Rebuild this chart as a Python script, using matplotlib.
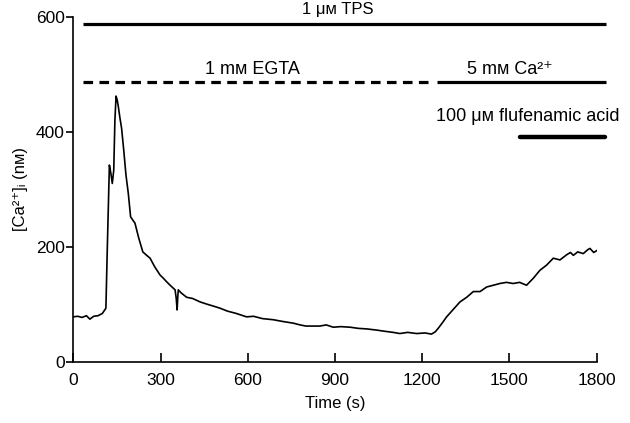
import matplotlib
matplotlib.use("Agg")
import matplotlib.pyplot as plt

plt.rcParams['font.family'] = ['Liberation Sans', 'DejaVu Sans']

time_s = [0, 15, 30, 45, 57, 70, 85, 100, 112, 117, 124, 129, 134, 139, 143, 147,
          151, 155, 160, 166, 173, 181, 189, 197, 205, 212, 225, 239, 250, 264,
          280, 298, 310, 321, 335, 350, 354, 357, 359, 361, 370, 390, 410, 436,
          460, 480, 505, 530, 560, 596, 620, 650, 688, 720, 757, 780, 800, 848,
          870, 894, 920, 952, 980, 1010, 1043, 1070, 1100, 1123, 1150, 1181,
          1210, 1232, 1245, 1255, 1270, 1284, 1307, 1330, 1353, 1376, 1399,
          1422, 1445, 1467, 1490, 1513, 1535, 1559, 1582, 1605, 1628, 1651,
          1674, 1697, 1710, 1720, 1735, 1754, 1770, 1777, 1790, 1800]
ca_nM = [78, 79, 77, 80, 74, 79, 80, 84, 93, 200, 342, 328, 310, 333, 420, 462,
         455, 443, 425, 406, 370, 325, 293, 252, 246, 241, 215, 191, 186, 180,
         165, 151, 145, 139, 132, 125, 110, 90, 110, 125, 120, 112, 110, 104,
         100, 97, 93, 88, 84, 78, 79, 75, 73, 70, 67, 64, 62, 62,
         64, 60, 61, 60, 58, 57, 55, 53, 51, 49, 51, 49,
         50, 48, 52, 58, 68, 78, 91, 104, 112, 122, 122,
         130, 133, 136, 138, 136, 138, 133, 145, 159, 168, 180,
         177, 186, 190, 185, 191, 188, 195, 197, 190, 193]

# barras de tratamiento (inicio, fin, nivel)
tps_bar = (34, 1834, 588)
egta_bar = (34, 1227, 487)
ca_bar = (1250, 1834, 487)
fluf_bar = (1536, 1830, 391)

fig = plt.figure(figsize=(6.3, 4.23), dpi=100)
ax = fig.add_axes([0.1164, 0.1449, 0.8306, 0.8156])

ax.plot(time_s, ca_nM, color='black', lw=1.2)

ax.plot(tps_bar[:2], [tps_bar[2]] * 2, color='black', lw=2.3, clip_on=False,
        solid_capstyle='butt')
ax.plot(egta_bar[:2], [egta_bar[2]] * 2, color='black', lw=2.3, clip_on=False,
        linestyle=(0, (3, 2)))
ax.plot(ca_bar[:2], [ca_bar[2]] * 2, color='black', lw=2.3, clip_on=False,
        solid_capstyle='butt')
ax.plot(fluf_bar[:2], [fluf_bar[2]] * 2, color='black', lw=3.2, clip_on=False,
        solid_capstyle='round')

txt = dict(fontsize=13, ha='center', va='center', clip_on=False)
ax.text(910, 612, '1 μᴍ TPS', fontsize=12, ha='center', va='center', clip_on=False)
ax.text(615, 509, '1 mᴍ EGTA', **txt)
ax.text(1502, 509, '5 mᴍ Ca²⁺', **txt)
ax.text(1563, 427, '100 μᴍ flufenamic acid', **txt)

ax.set_xlim(0, 1800)
ax.set_ylim(0, 600)
ax.set_xticks([0, 300, 600, 900, 1200, 1500, 1800])
ax.set_yticks([0, 200, 400, 600])
ax.spines['top'].set_visible(False)
ax.spines['right'].set_visible(False)
ax.spines['left'].set_linewidth(1.2)
ax.spines['bottom'].set_linewidth(1.2)
ax.tick_params(axis='x', direction='in', length=6.5, width=1.2, labelsize=12.5, pad=8)
ax.tick_params(axis='y', direction='out', length=5, width=1.2, labelsize=12.5, pad=1)

ax.set_xlabel('Time (s)', fontsize=12, labelpad=6)
ax.set_ylabel('[Ca²⁺]ᵢ (nᴍ)', fontsize=12, labelpad=6)

fig.savefig('out.png', dpi=100)
